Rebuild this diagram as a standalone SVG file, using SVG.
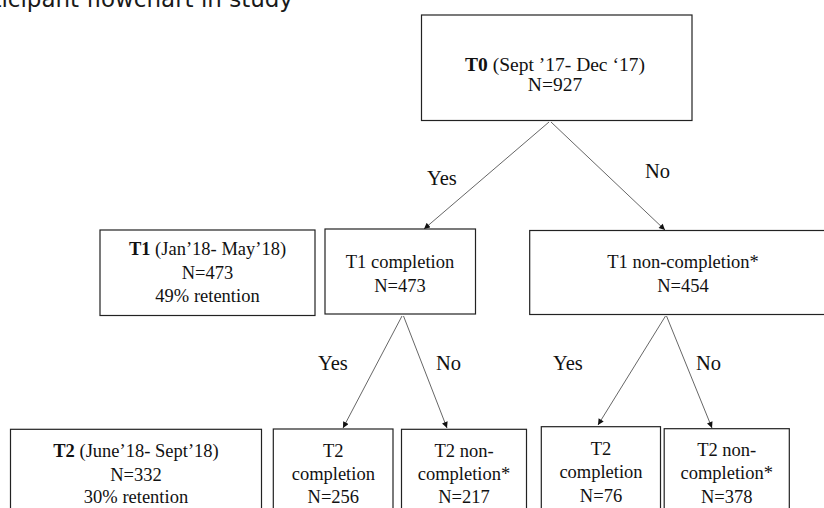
<svg xmlns="http://www.w3.org/2000/svg" width="824" height="508" viewBox="0 0 824 508">
<style>
.box{fill:#fff;stroke:#222;stroke-width:1.2}
.t{font-family:"Liberation Serif","Times New Roman",serif;font-size:18.5px;fill:#111;text-anchor:middle}
.t0{font-size:19.5px}
.lbl{font-family:"Liberation Serif","Times New Roman",serif;font-size:20.5px;fill:#111}
.c{stroke:#555;stroke-width:0.9;fill:none;marker-end:url(#ah)}
.title{font-family:"DejaVu Sans",sans-serif;font-size:23px;fill:#1a1a1a}
</style>
<defs>
<marker id="ah" viewBox="0 0 10 10" refX="10" refY="5" markerWidth="7" markerHeight="6" markerUnits="userSpaceOnUse" orient="auto">
<path d="M0,0 L10,5 L0,10 z" fill="#111"/>
</marker>
</defs>
<rect width="824" height="508" fill="#fff"/>
<text class="title" x="293" y="6.5" text-anchor="end">Participant flowchart in study</text>

<g id="connectors">
<line class="c" x1="549" y1="122" x2="424" y2="229"/>
<line class="c" x1="551" y1="122" x2="665" y2="230"/>
<line class="c" x1="402" y1="316" x2="343" y2="428"/>
<line class="c" x1="403.5" y1="316" x2="447" y2="428"/>
<line class="c" x1="665.5" y1="316" x2="598" y2="425"/>
<line class="c" x1="666.5" y1="316" x2="712" y2="428"/>
<text class="lbl" x="427" y="185">Yes</text>
<text class="lbl" x="645" y="178">No</text>
<text class="lbl" x="318" y="370">Yes</text>
<text class="lbl" x="436" y="370">No</text>
<text class="lbl" x="553" y="370">Yes</text>
<text class="lbl" x="696" y="370">No</text>
</g>

<g id="t0">
<rect class="box" x="421.5" y="15" width="270.5" height="105.5"/>
<text class="t t0" x="555" y="71"><tspan font-weight="bold">T0</tspan> (Sept ’17- Dec ‘17)</text>
<text class="t t0" x="555" y="91">N=927</text>
</g>

<g id="t1-label">
<rect class="box" x="100" y="230" width="215" height="85.5"/>
<text class="t" x="207.5" y="255"><tspan font-weight="bold">T1</tspan> (Jan’18- May’18)</text>
<text class="t" x="207.5" y="278.5">N=473</text>
<text class="t" x="207.5" y="302">49% retention</text>
</g>

<g id="t1-completion">
<rect class="box" x="325" y="229" width="150.5" height="85"/>
<text class="t" x="400" y="267.5">T1 completion</text>
<text class="t" x="400" y="292">N=473</text>
</g>

<g id="t1-noncompletion">
<rect class="box" x="529.7" y="230.5" width="306" height="84"/>
<text class="t" x="683" y="267.5">T1 non-completion*</text>
<text class="t" x="683" y="292">N=454</text>
</g>

<g id="t2-label">
<rect class="box" x="10.5" y="429.3" width="251" height="90"/>
<text class="t" x="136" y="456.5"><tspan font-weight="bold">T2</tspan> (June’18- Sept’18)</text>
<text class="t" x="136" y="480.5">N=332</text>
<text class="t" x="136" y="503.3">30% retention</text>
</g>

<g id="t2-completion-a">
<rect class="box" x="273.3" y="429" width="119.7" height="90"/>
<text class="t" x="333.3" y="456.7">T2</text>
<text class="t" x="333.3" y="479.5">completion</text>
<text class="t" x="333.3" y="503.3">N=256</text>
</g>

<g id="t2-noncompletion-a">
<rect class="box" x="401.5" y="429.3" width="125" height="90"/>
<text class="t" x="464" y="456.7">T2 non-</text>
<text class="t" x="464" y="479.5">completion*</text>
<text class="t" x="464" y="503.3">N=217</text>
</g>

<g id="t2-completion-b">
<rect class="box" x="541.3" y="426.7" width="119.2" height="90"/>
<text class="t" x="601" y="454.5">T2</text>
<text class="t" x="601" y="477.5">completion</text>
<text class="t" x="601" y="501.5">N=76</text>
</g>

<g id="t2-noncompletion-b">
<rect class="box" x="664.2" y="428.7" width="125.1" height="90"/>
<text class="t" x="726.7" y="456">T2 non-</text>
<text class="t" x="726.7" y="478.8">completion*</text>
<text class="t" x="726.7" y="503">N=378</text>
</g>
</svg>
